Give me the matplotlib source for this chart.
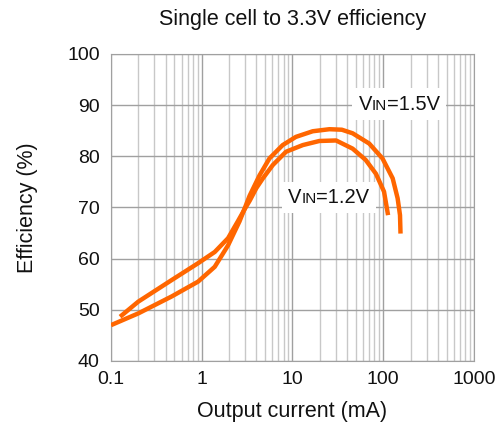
import matplotlib.pyplot as plt
from matplotlib.ticker import LogLocator, NullFormatter
from matplotlib.offsetbox import TextArea, HPacker, AnnotationBbox

plt.rcParams["font.family"] = ["Liberation Sans", "DejaVu Sans"]

# Efficiency curves (VIN = 1.5V and 1.2V)
current_15 = [0.1, 0.2, 0.465, 0.91, 1.39, 1.95, 2.61, 3.0, 3.37, 4.34, 5.58, 7.8, 10.9,
              16.7, 25.5, 35, 46, 70, 98, 127, 144, 153, 155]
eff_15 = [47.0, 49.3, 52.6, 55.5, 58.4, 62.6, 67.3, 70.0, 72.3, 76.3, 79.6, 82.2, 83.8,
          84.9, 85.3, 85.2, 84.5, 82.5, 79.6, 75.7, 71.8, 68.5, 64.9]

current_12 = [0.126, 0.2, 0.465, 0.91, 1.39, 1.95, 2.5, 3.0, 3.37, 4.0, 4.72, 6.07, 8.5, 13,
              19.8, 30.2, 46, 64, 83, 102, 113]
eff_12 = [48.65, 51.6, 55.8, 59.1, 61.3, 64.0, 67.3, 69.8, 71.3, 73.8, 75.7, 78.3, 80.9, 82.2,
          83.0, 83.1, 81.5, 79.3, 76.6, 73.1, 68.5]

x_ticks = [0.1, 1, 10, 100, 1000]
x_labels = ["0.1", "1", "10", "100", "1000"]
y_ticks = [40, 50, 60, 70, 80, 90, 100]

orange = "#FF6600"
text_col = "#111111"

fig = plt.figure(figsize=(4.99, 4.32), dpi=100)
ax = fig.add_axes([0.2224, 0.1644, 0.7275, 0.7106])

for xs, ys in [(current_15, eff_15), (current_12, eff_12)]:
    ax.plot(xs, ys, color=orange, lw=3.2, solid_capstyle="butt",
            solid_joinstyle="round", zorder=3)

ax.set_xscale("log")
ax.set_xlim(0.1, 1000)
ax.set_ylim(40, 100)
ax.set_xticks(x_ticks)
ax.set_xticklabels(x_labels)
ax.set_yticks(y_ticks)
ax.xaxis.set_minor_locator(LogLocator(base=10, subs=range(2, 10)))
ax.xaxis.set_minor_formatter(NullFormatter())

ax.grid(True, which="major", color="#a0a0a0", lw=1.0)
ax.grid(True, which="minor", axis="x", color="#c8c8c8", lw=1.0)
ax.set_axisbelow(True)
for s in ax.spines.values():
    s.set_color("#a0a0a0")

ax.tick_params(which="both", length=0, labelsize=14, colors=text_col)
ax.tick_params(axis="y", pad=8)
ax.tick_params(axis="x", pad=7)

ax.set_title("Single cell to 3.3V efficiency", fontsize=15.5, pad=21, color=text_col)
ax.set_xlabel("Output current (mA)", fontsize=15.5, labelpad=9.5, color=text_col)
ax.set_ylabel("Efficiency (%)", fontsize=15.5, labelpad=21, color=text_col)


def vin_label(x, y, value):
    parts = [
        TextArea("V", textprops=dict(fontsize=14.5, color=text_col)),
        TextArea("IN", textprops=dict(fontsize=11, color=text_col)),
        TextArea("=" + value, textprops=dict(fontsize=14.5, color=text_col)),
    ]
    box = HPacker(children=parts, align="baseline", pad=0, sep=0)
    ab = AnnotationBbox(box, (x, y), xycoords="data", frameon=True,
                        box_alignment=(0.5, 0.5), pad=0.45, zorder=4,
                        bboxprops=dict(facecolor="white", edgecolor="none"))
    ax.add_artist(ab)


vin_label(150, 90.2, "1.5V")
vin_label(25, 72.0, "1.2V")

fig.savefig("out.png", dpi=100)
